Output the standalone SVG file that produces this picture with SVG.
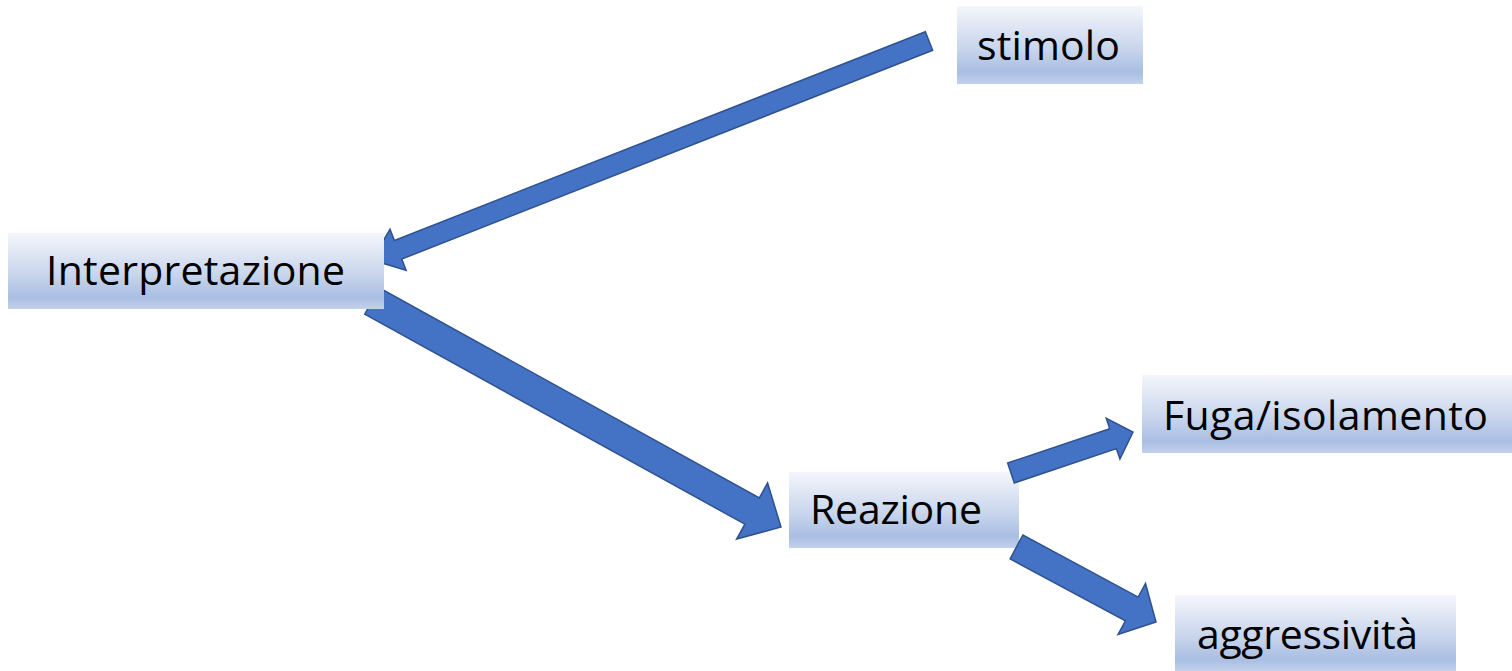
<svg xmlns="http://www.w3.org/2000/svg" width="1512" height="671" viewBox="0 0 1512 671">
<defs>
<linearGradient id="boxGrad" x1="0" y1="0" x2="0" y2="1">
<stop offset="0" stop-color="#F4F6FB"/>
<stop offset="0.55" stop-color="#C8D5EC"/>
<stop offset="0.85" stop-color="#A9BEE2"/>
<stop offset="1" stop-color="#C3D1EC"/>
</linearGradient>
</defs>
<style>
.box{fill:url(#boxGrad);}
.lbl{font-family:"Open Sans","Liberation Sans",sans-serif;font-size:41px;fill:#000;}
.arr{fill:#4472C4;stroke:#2F528F;stroke-width:1.5;stroke-linejoin:miter;}
</style>
<rect width="1512" height="671" fill="#FFFFFF"/>
<g id="node-reazione">
<rect class="box" x="789" y="472" width="230" height="76"/>
<text class="lbl" x="810" y="524" textLength="172">Reazione</text>
</g>
<g id="connectors">
<polygon class="arr" points="925.34,31.69 394.4,240.44 390.01,229.27 372,260 406.11,270.23 401.72,259.06 932.66,50.31"/>
<polygon class="arr" points="364.75,314.13 744.87,524.17 736.64,539.05 781,527 767.60,483.03 759.37,497.91 379.25,287.87"/>
<polygon class="arr" points="1014.35,482.95 1116.44,448.64 1119.94,459.07 1133,432 1106.24,418.31 1109.74,428.74 1007.65,463.05"/>
<polygon class="arr" points="1010.11,558.89 1125.39,620.87 1118.05,634.52 1156,622 1145.51,583.44 1138.17,597.09 1022.89,535.11"/>
</g>
<g id="node-stimolo">
<rect class="box" x="957" y="6" width="186" height="78"/>
<text class="lbl" x="977" y="60" textLength="143">stimolo</text>
</g>
<g id="node-interpretazione">
<rect class="box" x="8" y="233" width="376" height="76"/>
<text class="lbl" x="46" y="285" textLength="299">Interpretazione</text>
</g>
<g id="node-fuga">
<rect class="box" x="1142" y="375" width="370" height="78"/>
<text class="lbl" x="1163" y="430" textLength="325">Fuga/isolamento</text>
</g>
<g id="node-aggressivita">
<rect class="box" x="1175" y="595" width="281" height="76"/>
<text class="lbl" x="1197" y="649" textLength="221">aggressività</text>
</g>
</svg>
